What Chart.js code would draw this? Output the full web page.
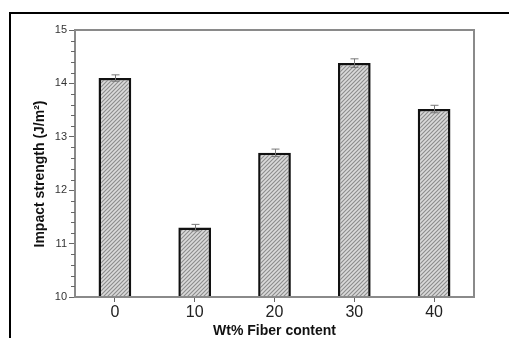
<!DOCTYPE html>
<html>
<head>
<meta charset="utf-8">
<script src="https://cdn.jsdelivr.net/npm/chart.js@4.4.0/dist/chart.umd.min.js"></script>
<style>
  body { margin: 0; background: #fff; }
  #wrap { position: relative; width: 509px; height: 338px; overflow: hidden; }
  #frame { position: absolute; left: 9px; top: 12px; width: 600px; height: 400px;
           border-top: 2px solid #000; border-left: 2px solid #000; }
  canvas { position: absolute; left: 0; top: 0; }
</style>
</head>
<body>
<div id="wrap">
  <div id="frame"></div>
  <canvas id="myChart" width="509" height="338"></canvas>
</div>
<script>
// fiber content (wt%) and impact strength
const fiberContent = ['0', '10', '20', '30', '40'];
const impactStrength = [14.1, 11.3, 12.7, 14.38, 13.52];
const strengthError = [0.06, 0.06, 0.07, 0.08, 0.07];
const yTicks = [10, 11, 12, 13, 14, 15];
const yTitle = 'Impact strength (J/m²)';

// hatched fill for the bars
function hatch() {
  const c = document.createElement('canvas');
  c.width = 4; c.height = 4;
  const p = c.getContext('2d');
  p.fillStyle = '#dadada';
  p.fillRect(0, 0, 4, 4);
  p.strokeStyle = '#8c8c8c';
  p.lineWidth = 1.1;
  p.beginPath();
  p.moveTo(0, 4); p.lineTo(4, 0);
  p.moveTo(-1, 1); p.lineTo(1, -1);
  p.moveTo(3, 5); p.lineTo(5, 3);
  p.stroke();
  return p.createPattern(c, 'repeat');
}

const extras = {
  id: 'extras',
  afterDatasetsDraw(chart) {
    const ctx = chart.ctx;
    const a = chart.chartArea;
    const y = chart.scales.y;
    ctx.save();
    // plot frame
    ctx.strokeStyle = '#8a8a8a';
    ctx.lineWidth = 2;
    ctx.strokeRect(a.left, a.top, a.right - a.left, a.bottom - a.top);
    // minor ticks on y axis
    ctx.strokeStyle = '#666';
    ctx.lineWidth = 1;
    for (let i = 0; i <= 25; i++) {
      if (i % 5 === 0) continue;
      const py = Math.round(y.getPixelForValue(10 + i * 0.2)) + 0.5;
      ctx.beginPath();
      ctx.moveTo(a.left - 4, py);
      ctx.lineTo(a.left, py);
      ctx.stroke();
    }
    // error bars
    const meta = chart.getDatasetMeta(0);
    ctx.strokeStyle = '#777';
    ctx.lineWidth = 1;
    meta.data.forEach((bar, i) => {
      const x = Math.round(bar.x) + 0.5;
      const t = y.getPixelForValue(impactStrength[i] + strengthError[i]);
      const b = y.getPixelForValue(impactStrength[i] - strengthError[i]);
      ctx.beginPath();
      ctx.moveTo(x, t); ctx.lineTo(x, b);
      ctx.moveTo(x - 4, t); ctx.lineTo(x + 4, t);
      ctx.moveTo(x - 4, b); ctx.lineTo(x + 4, b);
      ctx.stroke();
    });
    // y axis title, sits a little below the plot centre in the original
    ctx.translate(40, 174);
    ctx.rotate(-Math.PI / 2);
    ctx.fillStyle = '#111';
    ctx.font = 'bold 14px "Liberation Sans"';
    ctx.textAlign = 'center';
    ctx.textBaseline = 'middle';
    ctx.fillText(yTitle, 0, 0);
    ctx.restore();
  }
};

const ctx = document.getElementById('myChart');
const chart = new Chart(ctx, {
  type: 'bar',
  data: {
    labels: fiberContent,
    datasets: [{
      data: impactStrength,
      backgroundColor: hatch(),
      borderColor: '#111',
      borderWidth: 2.5,
      barPercentage: 0.41,
      categoryPercentage: 1.0
    }]
  },
  options: {
    responsive: false,
    animation: false,
    devicePixelRatio: 1,
    layout: { padding: { left: 0, top: 30, right: 35, bottom: 0 } },
    plugins: { legend: { display: false }, tooltip: { enabled: false } },
    scales: {
      x: {
        offset: true,
        afterFit: s => { s.height = 41; },
        grid: { offset: false, drawOnChartArea: false, tickLength: 5, tickColor: '#666' },
        border: { color: '#777', width: 2 },
        ticks: { color: '#222', padding: 1, font: { family: 'Liberation Sans', size: 16 } },
        title: {
          display: true, text: 'Wt% Fiber content', color: '#111',
          padding: { top: 0, bottom: 0 },
          font: { family: 'Liberation Sans', size: 14, weight: 'bold', lineHeight: 1 }
        }
      },
      y: {
        min: 10, max: 15,
        afterFit: s => { s.width = 75; },
        afterBuildTicks: s => { s.ticks = yTicks.map(v => ({ value: v })); },
        grid: { drawOnChartArea: false, tickLength: 6, tickColor: '#666' },
        border: { color: '#777', width: 2 },
        ticks: { color: '#333', padding: 2, font: { family: 'Liberation Sans', size: 11 } }
      }
    }
  },
  plugins: [extras]
});
</script>
</body>
</html>
